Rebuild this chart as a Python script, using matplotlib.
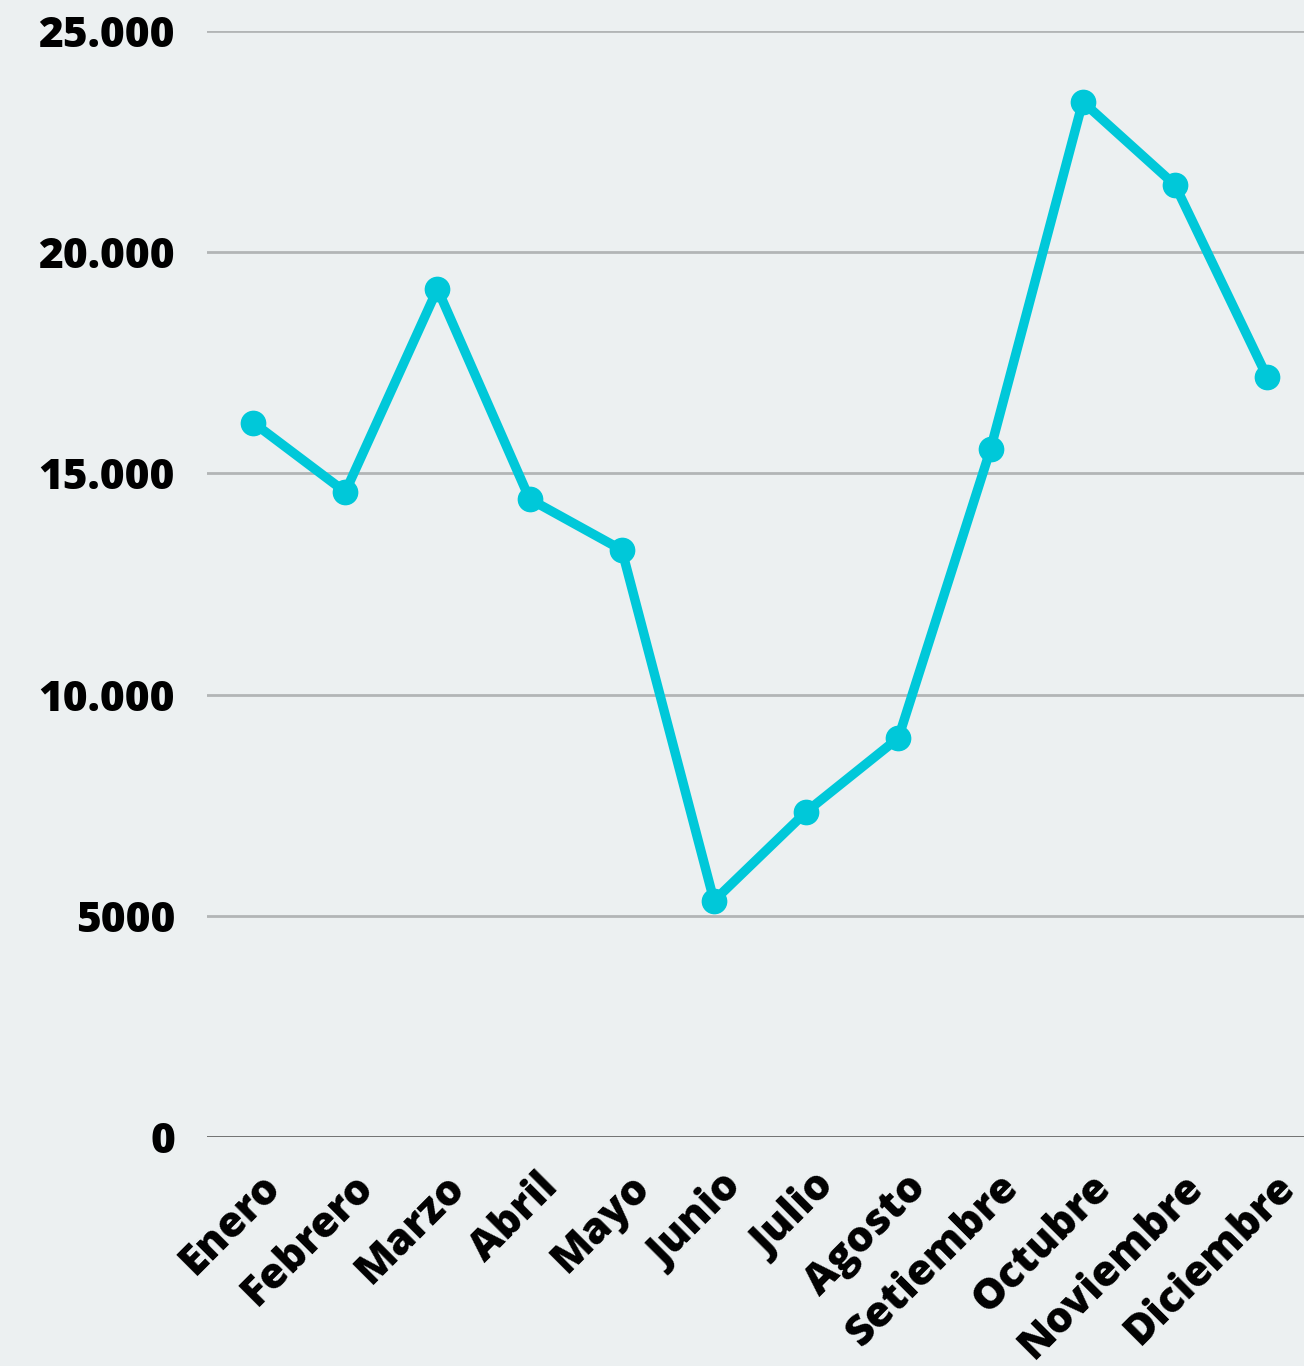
import matplotlib
matplotlib.use("Agg")
import matplotlib.pyplot as plt
import matplotlib.transforms as mtransforms

months = ["Enero", "Febrero", "Marzo", "Abril", "Mayo", "Junio", "Julio",
          "Agosto", "Setiembre", "Octubre", "Noviembre", "Diciembre"]
values = [16150, 14580, 19170, 14420, 13270, 5340, 7350, 9020, 15550, 23400, 21520, 17180]
yticks = [0, 5000, 10000, 15000, 20000, 25000]
ytick_labels = ["0", "5000", "10.000", "15.000", "20.000", "25.000"]

bg = "#ecf0f1"
plt.rcParams['font.family'] = ['Open Sans', 'DejaVu Sans']

fig = plt.figure(figsize=(13.04, 13.66), dpi=100, facecolor=bg)
ax = fig.add_axes([207/1304, 229/1366, 1 - 207/1304, (1137-31)/1366])
ax.set_facecolor(bg)

x = list(range(len(months)))
ax.plot(x, values, color="#00c8d9", lw=6.8, marker="o", ms=17.5, zorder=3,
        solid_capstyle="round", solid_joinstyle="round")

ax.set_ylim(0, 25000)
ax.set_xlim(-0.5, 11.4)
ax.set_yticks(yticks)
ax.set_yticklabels(ytick_labels)
for y in yticks:
    ax.axhline(y, color="#666666" if y == 0 else "#b2b5b6", lw=2, zorder=1)

ax.set_xticks(x)
ax.set_xticklabels(months, rotation=45, ha="right", rotation_mode="anchor")
for s in ax.spines.values():
    s.set_visible(False)
ax.tick_params(axis="both", length=0)
ax.tick_params(axis="y", pad=23, labelsize=30.5)
ax.tick_params(axis="x", pad=21, labelsize=30.5)
offset = mtransforms.ScaledTranslation(7/100, 0, fig.dpi_scale_trans)
for t in ax.get_xticklabels():
    t.set_transform(t.get_transform() + offset)
for t in ax.get_xticklabels() + ax.get_yticklabels():
    t.set_fontweight(800)
    t.set_color("black")

fig.savefig("out.png", dpi=100, facecolor=bg)
